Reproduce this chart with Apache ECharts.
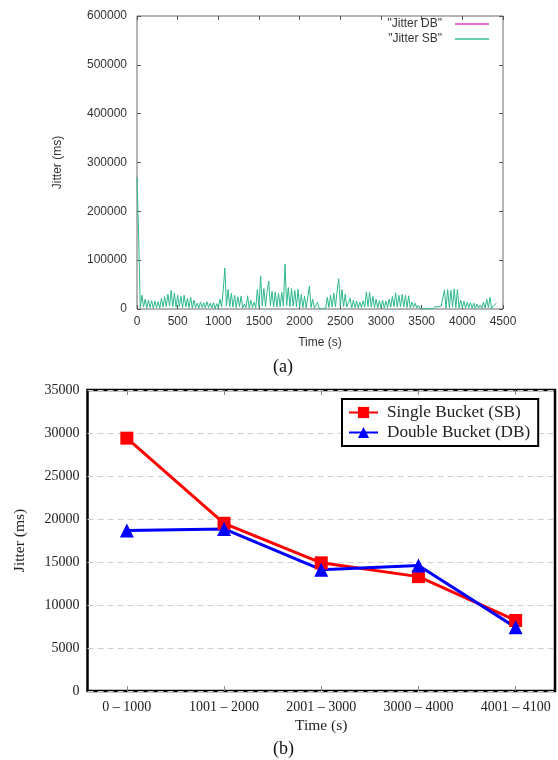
<!DOCTYPE html>
<html>
<head>
<meta charset="utf-8">
<script src="https://cdn.jsdelivr.net/npm/echarts@6/dist/echarts.min.js"></script>
<style>
  html, body { margin: 0; padding: 0; background: #fff; }
  #chart { width: 558px; height: 760px; }
</style>
</head>
<body>
<div id="chart"></div>
<script>
// (a) jitter trace, one sample every 20 s starting at t = 0
const sampleStep = 20;
const jitterSB = [
  270000, 150000, 3000, 28000, 4000, 20000, 2000, 18000, 3000, 17000,
  2000, 16000, 3000, 15000, 2000, 22000, 4000, 25000, 5000, 30000,
  6000, 38000, 5000, 33000, 4000, 28000, 5000, 26000, 3000, 28000,
  4000, 22000, 3000, 24000, 2000, 18000, 3000, 12000, 2000, 14000,
  3000, 13000, 2000, 15000, 3000, 12000, 2000, 13000, 1000, 11000,
  2000, 20000, 4000, 38000, 84000, 6000, 40000, 5000, 32000, 4000,
  28000, 3000, 25000, 5000, 26000, 2000, 10000, 3000, 27000, 2000,
  18000, 3000, 14000, 2000, 40000, 4000, 68000, 6000, 42000, 5000,
  36000, 57000, 7000, 36000, 5000, 35000, 4000, 32000, 5000, 34000,
  6000, 92000, 7000, 44000, 5000, 42000, 6000, 38000, 5000, 40000,
  4000, 30000, 3000, 26000, 2000, 24000, 47000, 3000, 20000, 2000,
  2000, 14000, 1000, 5000, 500, 3000, 2000, 24000, 3000, 28000,
  4000, 32000, 5000, 36000, 62000, 6000, 40000, 5000, 30000, 4000,
  3000, 22000, 2000, 18000, 3000, 16000, 2000, 14000, 3000, 17000,
  4000, 35000, 5000, 34000, 4000, 26000, 3000, 20000, 2000, 17000,
  3000, 18000, 2000, 16000, 3000, 20000, 4000, 26000, 5000, 33000,
  4000, 28000, 5000, 30000, 4000, 28000, 3000, 27000, 2000, 14000,
  3000, 12000, 2000, 8000, 1000, 5000, 500, 3000, 500, 4000,
  500, 3000, 500, 5000, 1000, 4000, 500, 6000, 2000, 39000,
  2000, 40000, 3000, 38000, 4000, 41000, 3000, 40000, 2000, 18000,
  3000, 16000, 2000, 14000, 3000, 13000, 2000, 12000, 1000, 10000,
  2000, 8000, 1000, 14000, 2000, 20000, 3000, 24000, 1000, 6000,
  2000, 12000
];
const jitterDB = [];
const timeTicksA = { min: 0, max: 4500, step: 500 };
const jitterTicksA = { min: 0, max: 600000, step: 100000 };

// (b) mean jitter per time window
const intervals = ['0 – 1000', '1001 – 2000', '2001 – 3000', '3000 – 4000', '4001 – 4100'];
const singleBucket = [29400, 19500, 14900, 13300, 8200];
const doubleBucket = [18650, 18850, 14100, 14600, 7400];
const jitterTicksB = { min: 0, max: 35000, step: 5000 };

const sansFont = 'Liberation Sans';
const serifFont = 'Liberation Serif';
const plain = v => String(v);

const traceSB = jitterSB.map((v, i) => [i * sampleStep, v]);
const traceDB = jitterDB.map((v, i) => [i * sampleStep, v]);

const chart = echarts.init(document.getElementById('chart'), null, { renderer: 'canvas' });

const gridA = { left: 137, top: 16, width: 366, height: 293, show: true, borderColor: '#6a6a6a', borderWidth: 1, backgroundColor: 'transparent' };
const gridB = { left: 87.5, top: 390, width: 467.5, height: 301, show: true, borderColor: '#000', borderWidth: 2.5, backgroundColor: 'transparent' };

const tickA = () => ({ show: true, inside: true, length: 4, lineStyle: { color: '#555', width: 1 } });

chart.setOption({
  animation: false,
  backgroundColor: '#fff',
  grid: [gridA, gridB],
  legend: [
    {
      data: ['"Jitter DB"', '"Jitter SB"'],
      orient: 'vertical',
      align: 'right',
      right: 69,
      top: 18,
      padding: 0,
      itemWidth: 34,
      itemHeight: 1.5,
      itemGap: 3,
      icon: 'rect',
      textStyle: { fontFamily: sansFont, fontSize: 12, color: '#333', padding: [0, 8, 0, 0] },
      selectedMode: false
    },
    {
      data: ['Single Bucket (SB)', 'Double Bucket (DB)'],
      orient: 'vertical',
      left: 342,
      top: 399,
      padding: [5, 8, 5, 6],
      itemWidth: 29,
      itemHeight: 14,
      itemGap: 3,
      borderColor: '#000',
      borderWidth: 2,
      backgroundColor: '#fff',
      textStyle: { fontFamily: serifFont, fontSize: 17.2, color: '#222', padding: [0, 0, 0, 4] },
      selectedMode: false
    }
  ],
  xAxis: [
    {
      gridIndex: 0, type: 'value', min: timeTicksA.min, max: timeTicksA.max, interval: timeTicksA.step,
      name: 'Time (s)', nameLocation: 'middle', nameGap: 28,
      nameTextStyle: { fontFamily: sansFont, fontSize: 12, color: '#333' },
      axisLine: { show: false, onZero: false }, axisTick: tickA(), splitLine: { show: false },
      axisLabel: { fontFamily: sansFont, fontSize: 12, color: '#333', margin: 7, formatter: plain }
    },
    {
      gridIndex: 0, type: 'value', position: 'top', min: timeTicksA.min, max: timeTicksA.max, interval: timeTicksA.step,
      axisLine: { show: false, onZero: false }, axisTick: tickA(), splitLine: { show: false }, axisLabel: { show: false }
    },
    {
      gridIndex: 1, type: 'value', min: -0.405, max: 4.405,
      name: 'Time (s)', nameLocation: 'middle', nameGap: 27,
      nameTextStyle: { fontFamily: serifFont, fontSize: 15.5, color: '#222' },
      axisLine: { show: false, onZero: false }, splitLine: { show: false },
      axisTick: { show: true, inside: true, length: 5, lineStyle: { color: '#888' }, customValues: [0, 1, 2, 3, 4] },
      axisLabel: {
        fontFamily: serifFont, fontSize: 14, color: '#222', margin: 9,
        customValues: [0, 1, 2, 3, 4],
        formatter: v => intervals[Math.round(v)]
      }
    },
    {
      gridIndex: 1, type: 'value', position: 'top', min: -0.405, max: 4.405,
      axisLine: { show: false, onZero: false }, splitLine: { show: false }, axisLabel: { show: false },
      axisTick: { show: true, inside: true, length: 5, lineStyle: { color: '#888' }, customValues: [0, 1, 2, 3, 4] }
    }
  ],
  yAxis: [
    {
      gridIndex: 0, type: 'value', min: jitterTicksA.min, max: jitterTicksA.max, interval: jitterTicksA.step,
      name: 'Jitter (ms)', nameLocation: 'middle', nameGap: 73, nameRotate: 90,
      nameTextStyle: { fontFamily: sansFont, fontSize: 12, color: '#333' },
      axisLine: { show: false, onZero: false }, axisTick: tickA(), splitLine: { show: false },
      axisLabel: { fontFamily: sansFont, fontSize: 12, color: '#333', margin: 10, formatter: plain }
    },
    {
      gridIndex: 0, type: 'value', position: 'right', min: jitterTicksA.min, max: jitterTicksA.max, interval: jitterTicksA.step,
      axisLine: { show: false, onZero: false }, axisTick: tickA(), splitLine: { show: false }, axisLabel: { show: false }
    },
    {
      gridIndex: 1, type: 'value', min: jitterTicksB.min, max: jitterTicksB.max, interval: jitterTicksB.step,
      name: 'Jitter (ms)', nameLocation: 'middle', nameGap: 60, nameRotate: 90,
      nameTextStyle: { fontFamily: serifFont, fontSize: 15.5, color: '#222' },
      axisLine: { show: false, onZero: false }, axisTick: { show: false },
      splitLine: { show: true, lineStyle: { color: '#cfcfcf', type: [6, 4], width: 1 } },
      axisLabel: { fontFamily: serifFont, fontSize: 14, color: '#222', margin: 8, formatter: plain }
    }
  ],
  series: [
    {
      name: '"Jitter DB"', type: 'line', xAxisIndex: 0, yAxisIndex: 0,
      data: traceDB, symbol: 'none', color: '#d23ad2',
      lineStyle: { width: 1, color: '#d23ad2' }
    },
    {
      name: '"Jitter SB"', type: 'line', xAxisIndex: 0, yAxisIndex: 0,
      data: traceSB, symbol: 'none', color: '#35bf94',
      lineStyle: { width: 1, color: '#2db88d' }
    },
    {
      name: 'Single Bucket (SB)', type: 'line', xAxisIndex: 2, yAxisIndex: 2,
      data: singleBucket.map((v, i) => [i, v]),
      color: '#ff0000', symbol: 'rect', symbolSize: 13,
      lineStyle: { width: 3, color: '#ff0000' }, itemStyle: { color: '#ff0000' }
    },
    {
      name: 'Double Bucket (DB)', type: 'line', xAxisIndex: 2, yAxisIndex: 2,
      data: doubleBucket.map((v, i) => [i, v]),
      color: '#0000ff', symbol: 'triangle', symbolSize: 14,
      lineStyle: { width: 3, color: '#0000ff' }, itemStyle: { color: '#0000ff' }
    }
  ],
  graphic: [
    { type: 'text', left: 273, top: 358, style: { text: '(a)', font: '18px "Liberation Serif"', fill: '#111' } },
    { type: 'text', left: 273, top: 740, style: { text: '(b)', font: '18px "Liberation Serif"', fill: '#111' } }
  ]
});
</script>
</body>
</html>
